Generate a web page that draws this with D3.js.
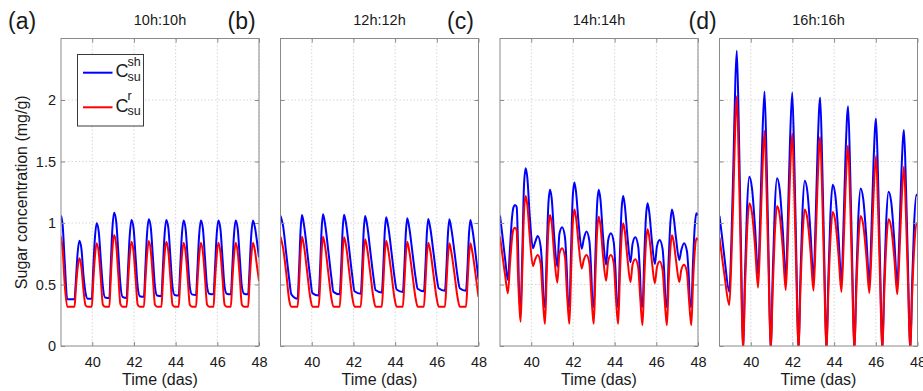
<!DOCTYPE html>
<html>
<head>
<meta charset="utf-8">
<script src="https://cdn.jsdelivr.net/npm/d3@7"></script>
<style>
  body { margin: 0; background: #fff; }
  text { font-family: "Liberation Sans", Arial, Helvetica, sans-serif; fill: #1a1a1a; }
</style>
</head>
<body>
<div id="chart"></div>
<script>
// panel headings
const panelTags = ['(a)', '(b)', '(c)', '(d)'];
const panelTitles = ['10h:10h', '12h:12h', '14h:14h', '16h:16h'];
const xTicks = [40, 42, 44, 46, 48];
const yTicks = [0, 0.5, 1, 1.5, 2];

// (a) 10h:10h
const tA = [38.5, 38.58, 38.68, 38.8,
  39.15, 39.21, 39.29, 39.38, 39.48, 39.58, 39.68, 39.78,
  39.98, 40.04, 40.12, 40.21, 40.31, 40.41, 40.51, 40.61,
  40.82, 40.88, 40.96, 41.05, 41.15, 41.25, 41.35, 41.45,
  41.65, 41.71, 41.79, 41.88, 41.98, 42.08, 42.18, 42.28,
  42.48, 42.54, 42.62, 42.71, 42.81, 42.91, 43.01, 43.11,
  43.32, 43.38, 43.46, 43.55, 43.65, 43.75, 43.85, 43.95,
  44.15, 44.21, 44.29, 44.38, 44.48, 44.58, 44.68, 44.78,
  44.98, 45.04, 45.12, 45.21, 45.31, 45.41, 45.51, 45.61,
  45.82, 45.88, 45.96, 46.05, 46.15, 46.25, 46.35, 46.45,
  46.65, 46.71, 46.79, 46.88, 46.98, 47.08, 47.18, 47.28,
  47.48, 47.54, 47.62, 47.71, 47.81, 47.91, 48.0];
const shA = [1.06, 0.98, 0.68, 0.38,
  0.38, 0.52, 0.74, 0.856, 0.79, 0.57, 0.43, 0.385,
  0.385, 0.6, 0.86, 0.997, 0.93, 0.70, 0.48, 0.395,
  0.39, 0.62, 0.94, 1.084, 1.01, 0.76, 0.50, 0.40,
  0.39, 0.6, 0.88, 1.024, 0.96, 0.72, 0.48, 0.405,
  0.40, 0.6, 0.89, 1.03, 0.96, 0.72, 0.48, 0.41,
  0.405, 0.6, 0.88, 1.024, 0.96, 0.72, 0.48, 0.415,
  0.41, 0.6, 0.88, 1.02, 0.95, 0.71, 0.48, 0.42,
  0.415, 0.6, 0.88, 1.02, 0.95, 0.71, 0.48, 0.425,
  0.42, 0.6, 0.88, 1.02, 0.95, 0.71, 0.48, 0.425,
  0.42, 0.6, 0.88, 1.02, 0.95, 0.71, 0.48, 0.425,
  0.42, 0.6, 0.88, 1.02, 0.96, 0.84, 0.72];
const rA = [0.89, 0.78, 0.5, 0.32,
  0.32, 0.46, 0.62, 0.713, 0.64, 0.45, 0.33, 0.32,
  0.32, 0.5, 0.71, 0.835, 0.76, 0.55, 0.335, 0.32,
  0.32, 0.52, 0.77, 0.902, 0.82, 0.58, 0.34, 0.32,
  0.32, 0.5, 0.72, 0.848, 0.77, 0.55, 0.335, 0.32,
  0.32, 0.5, 0.72, 0.854, 0.77, 0.55, 0.335, 0.32,
  0.32, 0.5, 0.72, 0.848, 0.77, 0.55, 0.335, 0.32,
  0.32, 0.5, 0.71, 0.84, 0.76, 0.55, 0.335, 0.32,
  0.32, 0.5, 0.71, 0.84, 0.76, 0.55, 0.335, 0.32,
  0.32, 0.5, 0.71, 0.84, 0.76, 0.55, 0.335, 0.32,
  0.32, 0.5, 0.71, 0.84, 0.76, 0.55, 0.335, 0.32,
  0.32, 0.5, 0.71, 0.84, 0.77, 0.64, 0.53];

// (b) 12h:12h
const tB = [38.5, 38.62, 38.77, 38.92, 39.02,
  39.32, 39.39, 39.46, 39.53, 39.63, 39.78, 39.93, 40.03,
  40.33, 40.40, 40.47, 40.54, 40.64, 40.79, 40.94, 41.04,
  41.34, 41.41, 41.48, 41.55, 41.65, 41.80, 41.95, 42.05,
  42.35, 42.42, 42.49, 42.56, 42.66, 42.81, 42.96, 43.06,
  43.36, 43.43, 43.50, 43.57, 43.67, 43.82, 43.97, 44.07,
  44.37, 44.44, 44.51, 44.58, 44.68, 44.83, 44.98, 45.08,
  45.38, 45.45, 45.52, 45.59, 45.69, 45.84, 45.99, 46.09,
  46.39, 46.46, 46.53, 46.60, 46.70, 46.85, 47.00, 47.10,
  47.40, 47.47, 47.54, 47.61, 47.71, 47.86, 48.0];
const shB = [1.059, 0.98, 0.76, 0.54, 0.42,
  0.385, 0.62, 0.93, 1.065, 0.98, 0.77, 0.55, 0.43,
  0.41, 0.63, 0.94, 1.071, 0.99, 0.78, 0.56, 0.44,
  0.42, 0.63, 0.94, 1.067, 0.99, 0.78, 0.56, 0.445,
  0.425, 0.63, 0.93, 1.057, 0.98, 0.77, 0.56, 0.455,
  0.435, 0.63, 0.92, 1.046, 0.97, 0.77, 0.56, 0.46,
  0.44, 0.63, 0.91, 1.038, 0.96, 0.76, 0.56, 0.465,
  0.445, 0.63, 0.91, 1.033, 0.955, 0.76, 0.56, 0.47,
  0.45, 0.63, 0.90, 1.03, 0.95, 0.76, 0.56, 0.47,
  0.45, 0.63, 0.90, 1.024, 0.945, 0.75, 0.54];
const rB = [0.889, 0.80, 0.60, 0.37, 0.32,
  0.32, 0.5, 0.76, 0.889, 0.81, 0.6, 0.39, 0.32,
  0.32, 0.5, 0.76, 0.889, 0.81, 0.6, 0.39, 0.32,
  0.32, 0.5, 0.76, 0.884, 0.81, 0.6, 0.39, 0.32,
  0.32, 0.5, 0.75, 0.867, 0.79, 0.59, 0.39, 0.32,
  0.32, 0.5, 0.74, 0.856, 0.78, 0.59, 0.39, 0.32,
  0.32, 0.5, 0.73, 0.848, 0.77, 0.58, 0.39, 0.32,
  0.32, 0.5, 0.73, 0.84, 0.77, 0.58, 0.39, 0.32,
  0.32, 0.5, 0.72, 0.835, 0.76, 0.58, 0.39, 0.32,
  0.32, 0.5, 0.72, 0.835, 0.76, 0.58, 0.40];

// (c) 14h:14h
const tC = [38.5, 38.6, 38.75, 38.88, 38.98, 39.08, 39.15, 39.22, 39.3, 39.36, 39.44, 39.49, 39.57, 39.65,
  39.73, 39.81, 39.93, 40.08, 40.18, 40.31, 40.45, 40.53, 40.61, 40.66, 40.74, 40.82,
  40.90, 40.98, 41.10, 41.25, 41.35, 41.48, 41.62, 41.70, 41.78, 41.83, 41.91, 41.99,
  42.07, 42.15, 42.27, 42.42, 42.52, 42.65, 42.79, 42.87, 42.95, 43.00, 43.08, 43.16,
  43.24, 43.32, 43.44, 43.59, 43.69, 43.82, 43.96, 44.04, 44.12, 44.17, 44.25, 44.33,
  44.41, 44.49, 44.61, 44.76, 44.86, 44.99, 45.13, 45.21, 45.29, 45.34, 45.42, 45.50,
  45.58, 45.66, 45.78, 45.93, 46.03, 46.16, 46.30, 46.38, 46.46, 46.51, 46.59, 46.67,
  46.75, 46.83, 46.95, 47.10, 47.20, 47.33, 47.47, 47.55, 47.63, 47.68, 47.76, 47.84,
  47.92, 48.0];
const shC = [1.06, 0.92, 0.7, 0.537, 0.8, 1.05, 1.13, 1.146, 1.13, 0.85, 0.32, 0.32, 0.75, 1.3,
  1.445, 1.37, 1.05, 0.794, 0.84, 0.894, 0.81, 0.62, 0.32, 0.32, 0.75, 1.15,
  1.27, 1.20, 0.89, 0.645, 0.91, 0.965, 0.88, 0.64, 0.32, 0.32, 0.78, 1.21,
  1.33, 1.25, 1.0, 0.79, 0.87, 0.93, 0.85, 0.63, 0.32, 0.32, 0.75, 1.15,
  1.27, 1.19, 0.9, 0.66, 0.86, 0.916, 0.84, 0.62, 0.32, 0.32, 0.73, 1.10,
  1.22, 1.14, 0.9, 0.68, 0.83, 0.884, 0.81, 0.61, 0.32, 0.32, 0.71, 1.04,
  1.16, 1.09, 0.87, 0.667, 0.81, 0.862, 0.79, 0.60, 0.32, 0.32, 0.69, 0.99,
  1.11, 1.05, 0.87, 0.70, 0.78, 0.835, 0.77, 0.59, 0.32, 0.32, 0.68, 0.96,
  1.08, 1.06];
const rC = [0.89, 0.76, 0.57, 0.428, 0.67, 0.88, 0.95, 0.962, 0.94, 0.6, 0.3, 0.198, 0.62, 1.08,
  1.22, 1.15, 0.88, 0.65, 0.70, 0.74, 0.67, 0.45, 0.25, 0.18, 0.58, 0.95,
  1.065, 1.0, 0.74, 0.515, 0.75, 0.794, 0.72, 0.47, 0.26, 0.18, 0.6, 0.99,
  1.11, 1.04, 0.83, 0.63, 0.70, 0.74, 0.67, 0.45, 0.25, 0.18, 0.58, 0.93,
  1.05, 0.98, 0.74, 0.53, 0.69, 0.74, 0.67, 0.45, 0.25, 0.18, 0.56, 0.88,
  0.997, 0.93, 0.72, 0.52, 0.66, 0.705, 0.64, 0.44, 0.24, 0.17, 0.54, 0.83,
  0.95, 0.89, 0.70, 0.51, 0.64, 0.686, 0.62, 0.43, 0.24, 0.17, 0.52, 0.78,
  0.90, 0.85, 0.69, 0.52, 0.62, 0.66, 0.60, 0.42, 0.24, 0.17, 0.51, 0.76,
  0.876, 0.86];

// (d) 16h:16h  (minima below 0 are cut by the axes)
const tD = [38.5, 38.6, 38.75, 38.97, 39.07, 39.17, 39.26,
  39.33, 39.43, 39.53, 39.63, 39.72, 39.82, 39.93, 40.06, 40.21, 40.35, 40.45, 40.55,
  40.66, 40.76, 40.86, 40.96, 41.05, 41.15, 41.26, 41.39, 41.54, 41.68, 41.78, 41.88,
  41.99, 42.09, 42.19, 42.29, 42.38, 42.48, 42.59, 42.72, 42.87, 43.01, 43.11, 43.21,
  43.33, 43.43, 43.53, 43.63, 43.72, 43.82, 43.93, 44.06, 44.21, 44.35, 44.45, 44.55,
  44.67, 44.77, 44.87, 44.97, 45.06, 45.16, 45.27, 45.40, 45.55, 45.69, 45.79, 45.89,
  46.01, 46.11, 46.21, 46.31, 46.40, 46.50, 46.61, 46.74, 46.89, 47.03, 47.13, 47.23,
  47.35, 47.45, 47.55, 47.65, 47.74, 47.84, 47.95, 48.0];
const shD = [1.057, 0.92, 0.7, 0.44, 0.85, 1.5, 2.15,
  2.40, 1.75, 0.82, -0.05, 0.56, 1.12, 1.376, 1.28, 0.95, 0.58, 1.04, 1.66,
  2.07, 1.51, 0.70, -0.05, 0.55, 1.11, 1.363, 1.27, 0.93, 0.55, 1.03, 1.65,
  2.06, 1.50, 0.70, -0.05, 0.54, 1.09, 1.344, 1.25, 0.91, 0.54, 1.01, 1.62,
  2.02, 1.47, 0.69, -0.05, 0.53, 1.06, 1.31, 1.22, 0.89, 0.52, 0.98, 1.57,
  1.95, 1.42, 0.66, -0.05, 0.52, 1.04, 1.28, 1.19, 0.87, 0.51, 0.94, 1.49,
  1.85, 1.35, 0.63, -0.05, 0.51, 1.02, 1.255, 1.17, 0.85, 0.50, 0.90, 1.42,
  1.756, 1.28, 0.60, -0.05, 0.50, 1.0, 1.23, 1.22];
const rD = [0.884, 0.75, 0.56, 0.333, 0.7, 1.25, 1.82,
  2.03, 1.45, 0.65, -0.05, 0.46, 0.92, 1.16, 1.08, 0.80, 0.474, 0.86, 1.38,
  1.75, 1.25, 0.57, -0.05, 0.45, 0.90, 1.138, 1.06, 0.78, 0.455, 0.85, 1.37,
  1.73, 1.24, 0.56, -0.05, 0.44, 0.88, 1.11, 1.03, 0.76, 0.45, 0.83, 1.34,
  1.70, 1.22, 0.55, -0.05, 0.43, 0.86, 1.09, 1.01, 0.74, 0.44, 0.80, 1.29,
  1.63, 1.17, 0.53, -0.05, 0.42, 0.84, 1.057, 0.98, 0.72, 0.43, 0.76, 1.22,
  1.545, 1.11, 0.50, -0.05, 0.41, 0.82, 1.03, 0.96, 0.71, 0.42, 0.73, 1.15,
  1.46, 1.05, 0.48, -0.05, 0.40, 0.79, 0.997, 0.99];

const panelTimes = [tA, tB, tC, tD];
const panelShoot = [shA, shB, shC, shD];
const panelRoot = [rA, rB, rC, rD];

const width = 923, height = 391;
const plotLeft = 61, plotStep = 219.5, plotW = 198;
const plotTop = 38.5, plotBottom = 346;
const frameColor = '#8a8a8a';

const svg = d3.select('#chart').append('svg')
    .attr('width', width)
    .attr('height', height);

svg.append('rect').attr('width', width).attr('height', height).attr('fill', '#fff');

panelTimes.forEach((times, i) => {
  const left = plotLeft + i * plotStep;
  const x = d3.scaleLinear().domain([38.5, 48]).range([left, left + plotW]);
  const y = d3.scaleLinear().domain([0, 2.5]).range([plotBottom, plotTop]);
  const g = svg.append('g');

  // dotted grid
  g.selectAll('.gx').data(xTicks).enter().append('line')
      .attr('x1', d => x(d)).attr('x2', d => x(d))
      .attr('y1', plotTop).attr('y2', plotBottom)
      .attr('stroke', '#d6d6d6').attr('stroke-dasharray', '1.5,2');
  g.selectAll('.gy').data(yTicks.slice(1)).enter().append('line')
      .attr('x1', left).attr('x2', left + plotW)
      .attr('y1', d => y(d)).attr('y2', d => y(d))
      .attr('stroke', '#d6d6d6').attr('stroke-dasharray', '1.5,2');

  const clipId = 'clip' + i;
  svg.append('clipPath').attr('id', clipId).append('rect')
      .attr('x', left).attr('y', plotTop).attr('width', plotW).attr('height', plotBottom - plotTop);

  const line = d3.line()
      .x(d => x(d[0]))
      .y(d => y(d[1]))
      .curve(d3.curveMonotoneX);

  const shootPts = times.map((t, k) => [t, panelShoot[i][k]]);
  const rootPts = times.map((t, k) => [t, panelRoot[i][k]]);

  g.append('path').datum(shootPts)
      .attr('d', line).attr('fill', 'none')
      .attr('stroke', '#0000ff').attr('stroke-width', 2)
      .attr('clip-path', `url(#${clipId})`);
  g.append('path').datum(rootPts)
      .attr('d', line).attr('fill', 'none')
      .attr('stroke', '#ff0000').attr('stroke-width', 2)
      .attr('clip-path', `url(#${clipId})`);

  // axes, ticks pointing inwards on all four sides
  const bottom = g.append('g')
      .attr('transform', `translate(0,${plotBottom})`)
      .call(d3.axisBottom(x).tickValues(xTicks).tickSizeInner(-4).tickSizeOuter(0).tickPadding(11));
  g.append('g')
      .attr('transform', `translate(0,${plotTop})`)
      .call(d3.axisTop(x).tickValues(xTicks).tickSizeInner(-4).tickSizeOuter(0).tickFormat(''));
  const leftAxis = g.append('g')
      .attr('transform', `translate(${left},0)`)
      .call(d3.axisLeft(y).tickValues(yTicks).tickSizeInner(-4).tickSizeOuter(0).tickPadding(5)
        .tickFormat(i === 0 ? d3.format('') : ''));
  g.append('g')
      .attr('transform', `translate(${left + plotW},0)`)
      .call(d3.axisRight(y).tickValues(yTicks).tickSizeInner(-4).tickSizeOuter(0).tickFormat(''));

  g.selectAll('.domain').remove();
  g.selectAll('.tick line').attr('stroke', frameColor);
  g.selectAll('.tick text').attr('fill', '#1a1a1a').style('font-size', '14.5px')
      .style('font-family', '"Liberation Sans", Arial, sans-serif');

  g.append('rect')
      .attr('x', left).attr('y', plotTop)
      .attr('width', plotW).attr('height', plotBottom - plotTop)
      .attr('fill', 'none').attr('stroke', frameColor).attr('stroke-width', 1);

  g.append('text')
      .attr('x', left + plotW / 2).attr('y', 385)
      .attr('text-anchor', 'middle').style('font-size', '16px')
      .text('Time (das)');

  g.append('text')
      .attr('x', left + plotW / 2).attr('y', 25)
      .attr('text-anchor', 'middle').style('font-size', '14.5px')
      .text(panelTitles[i]);

  g.append('text')
      .attr('x', i === 3 ? left - 31 : left - 53).attr('y', 29)
      .style('font-size', '23px')
      .text(panelTags[i]);
});

// y axis label
svg.append('text')
    .attr('transform', `translate(27,${(plotTop + plotBottom) / 2}) rotate(-90)`)
    .attr('text-anchor', 'middle').style('font-size', '16px')
    .text('Sugar concentration (mg/g)');

// legend in panel (a)
const legend = svg.append('g');
legend.append('rect')
    .attr('x', 77.5).attr('y', 54.5).attr('width', 66).attr('height', 71.5)
    .attr('fill', '#fff').attr('stroke', '#3a3a3a').attr('stroke-width', 1);
const legendItems = [
  { color: '#0000ff', sup: 'sh', ly: 72.7 },
  { color: '#ff0000', sup: 'r', ly: 107.3 }
];
legendItems.forEach(item => {
  legend.append('line')
      .attr('x1', 83).attr('x2', 112.5)
      .attr('y1', item.ly).attr('y2', item.ly)
      .attr('stroke', item.color).attr('stroke-width', 2);
  legend.append('text').attr('x', 115.5).attr('y', item.ly + 4.5)
      .style('font-size', '18px').text('C');
  legend.append('text').attr('x', 127.5).attr('y', item.ly - 7)
      .style('font-size', '12.5px').text(item.sup);
  legend.append('text').attr('x', 127.5).attr('y', item.ly + 8)
      .style('font-size', '12.5px').text('su');
});
</script>
</body>
</html>
